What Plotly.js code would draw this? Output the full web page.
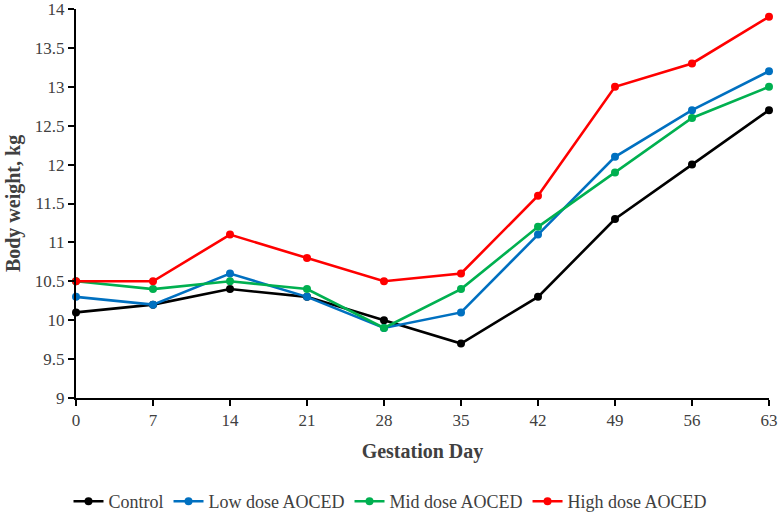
<!DOCTYPE html>
<html><head><meta charset="utf-8">
<script src="https://cdn.plot.ly/plotly-3.0.1.min.js"></script>
<style>body{margin:0;background:#fff}#c{width:781px;height:517px}</style>
</head><body><div id="c"></div>
<script>
const days = [0, 7, 14, 21, 28, 35, 42, 49, 56, 63];
const control = [10.1, 10.2, 10.4, 10.3, 10.0, 9.7, 10.3, 11.3, 12.0, 12.7];
const lowDose = [10.3, 10.2, 10.6, 10.3, 9.9, 10.1, 11.1, 12.1, 12.7, 13.2];
const midDose = [10.5, 10.4, 10.5, 10.4, 9.9, 10.4, 11.2, 11.9, 12.6, 13.0];
const highDose = [10.5, 10.5, 11.1, 10.8, 10.5, 10.6, 11.6, 13.0, 13.3, 13.9];
const names = ["Control", "Low dose AOCED", "Mid dose AOCED", "High dose AOCED"];
const colors = ["#000000", "#0070C0", "#00B050", "#FF0000"];
const series = [control, lowDose, midDose, highDose];
const serif = "Liberation Serif";
const traces = series.map((s, i) => ({
  x: days, y: s, name: names[i], type: "scatter", mode: "lines+markers",
  line: {color: colors[i], width: 2.6},
  marker: {color: colors[i], size: 8},
  cliponaxis: false
}));
const layout = {
  width: 781, height: 517,
  margin: {l: 76, r: 12, t: 9, b: 119},
  paper_bgcolor: "#fff", plot_bgcolor: "#fff",
  font: {family: serif, size: 17, color: "#404040"},
  showlegend: true,
  legend: {orientation: "h", x: 0.5, xanchor: "center", xref: "container",
           y: 0.03, yanchor: "middle", yref: "container",
           font: {family: serif, size: 18, color: "#404040"}, itemwidth: 30, tracegroupgap: 0},
  xaxis: {
    range: [0, 63], tickvals: days, ticktext: days.map(String),
    tickfont: {family: serif, size: 17, color: "#404040"},
    showgrid: false, zeroline: false, showline: true, linecolor: "#000", linewidth: 2,
    ticks: "outside", ticklen: 6, tickwidth: 2, tickcolor: "#000",
    title: {text: "<b>Gestation Day</b>", font: {family: serif, size: 20, color: "#404040"}, standoff: 15}
  },
  yaxis: {
    range: [9, 14], dtick: 0.5, ticklabeloverflow: "allow",
    tickfont: {family: serif, size: 17, color: "#404040"},
    showgrid: false, zeroline: false, showline: true, linecolor: "#000", linewidth: 2,
    ticks: "outside", ticklen: 6, tickwidth: 2, tickcolor: "#000",
    title: {text: "<b>Body weight, kg</b>", font: {family: serif, size: 20, color: "#404040"}, standoff: 9}
  }
};
Plotly.newPlot("c", traces, layout, {displayModeBar: false});
</script></body></html>
